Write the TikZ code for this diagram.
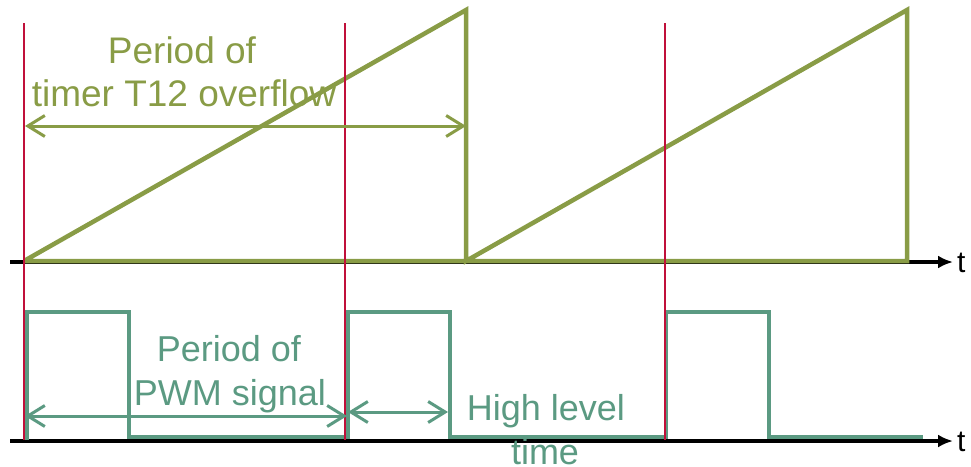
\documentclass[tikz,border=0pt]{standalone}
\usepackage{fontspec}
\setmainfont{Liberation Sans}
\usetikzlibrary{arrows.meta}
\definecolor{sawolive}{HTML}{899C46}
\definecolor{pwmteal}{HTML}{5B9A82}
\definecolor{markred}{HTML}{C0103A}
\begin{document}
\begin{tikzpicture}[x=1pt,y=-1pt,
  axis/.style={line width=3.5pt,black,-{Latex[length=15pt,width=13pt]}},
  saw/.style={line width=4.5pt,sawolive,line join=miter},
  pwm/.style={line width=4.5pt,pwmteal,line join=miter},
  marker/.style={line width=2.5pt,markred},
  dim/.style={line width=3pt,{Straight Barb[length=17pt,width=21pt,line width=3pt]}-{Straight Barb[length=17pt,width=21pt,line width=3pt]}},
  lab/.style={inner sep=0pt,anchor=base},
  toptxt/.style={lab,sawolive,font=\fontsize{37}{43}\selectfont},
  bottxt/.style={lab,pwmteal,font=\fontsize{36}{43}\selectfont},
  tlab/.style={lab,anchor=base west,black,font=\fontsize{30}{36}\selectfont}]
\useasboundingbox (0,0) rectangle (971,466);
% coordinates
\coordinate (a0) at (10,262);
\coordinate (a1) at (953,262);
\coordinate (b0) at (10,441);
\coordinate (b1) at (953,441);
% axes
\draw[axis] (a0) -- (a1);
\draw[axis] (b0) -- (b1);
\node[tlab] (tt) at (957,272) {t};
\node[tlab] (tb) at (957,451) {t};
% sawtooth
\draw[saw] (24,261) -- (466,10) -- (466,261) -- (907,10) -- (907,261) -- (24,261);
% pwm
\draw[pwm] (27,440) -- (27,312) -- (129,312) -- (129,437) -- (348,437) -- (348,312)
  -- (450,312) -- (450,437) -- (666,437) -- (666,312) -- (769,312) -- (769,437) -- (923,437);
% markers
\foreach \x/\n in {24/m1,345/m2,665/m3}{
  \coordinate (\n t) at (\x,23);
  \coordinate (\n b) at (\x,440);
  \draw[marker] (\n t) -- (\n b);
}
% dimension arrows
\coordinate (d1a) at (25,126); \coordinate (d1b) at (466,126);
\coordinate (d2a) at (25,416); \coordinate (d2b) at (347,416);
\coordinate (d3a) at (348,412); \coordinate (d3b) at (448,412);
\draw[dim,sawolive] (d1a) -- (d1b);
\draw[dim,pwmteal] (d2a) -- (d2b);
\draw[dim,pwmteal] (d3a) -- (d3b);
% labels
\node[toptxt] (p1) at (182,63) {Period of};
\node[toptxt] (p2) at (184,106) {timer T12 overflow};
\node[bottxt] (q1) at (229,361) {Period of};
\node[bottxt] (q2) at (230,405) {PWM signal};
\node[bottxt] (h1) at (546,420) {High level};
\node[bottxt] (h2) at (545,464) {time};
\end{tikzpicture}
\end{document}
